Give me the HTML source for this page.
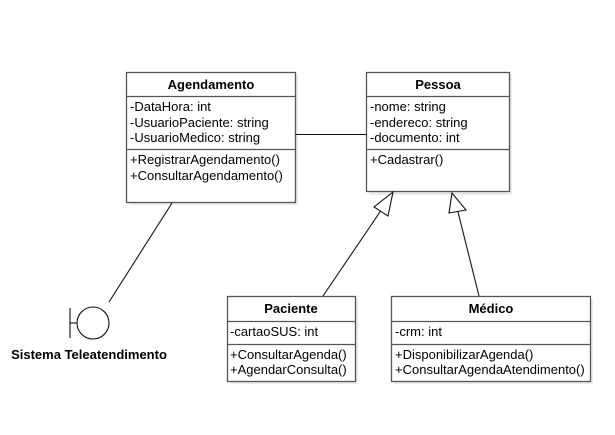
<!DOCTYPE html>
<html><head><meta charset="utf-8"><style>
html,body{margin:0;padding:0;background:#fff;}
svg{display:block;font-family:"Liberation Sans",Arial,sans-serif;}
</style></head><body>
<svg width="615" height="435" viewBox="0 0 615 435" xmlns="http://www.w3.org/2000/svg">
<rect width="615" height="435" fill="#fff"/>
<g fill="#ececec">
<rect x="129" y="75" width="169" height="130"/>
<rect x="369" y="75" width="143" height="120"/>
<rect x="230" y="299" width="128" height="85"/>
<rect x="394" y="299" width="199" height="85"/>
</g>
<g fill="#fff" stroke="#555" stroke-width="1.3">
<rect x="126.5" y="72.5" width="169" height="130"/>
<rect x="366.5" y="72.5" width="143" height="119"/>
<rect x="227.5" y="296.5" width="128" height="85"/>
<rect x="391.5" y="296.5" width="199" height="85"/>
</g>
<g stroke="#555" stroke-width="1.3">
<line x1="126.5" y1="96.5" x2="295.5" y2="96.5"/>
<line x1="126.5" y1="149.5" x2="295.5" y2="149.5"/>
<line x1="366.5" y1="96.5" x2="509.5" y2="96.5"/>
<line x1="366.5" y1="149.5" x2="509.5" y2="149.5"/>
<line x1="227.5" y1="321.5" x2="355.5" y2="321.5"/>
<line x1="227.5" y1="344.5" x2="355.5" y2="344.5"/>
<line x1="391.5" y1="321.5" x2="590.5" y2="321.5"/>
<line x1="391.5" y1="344.5" x2="590.5" y2="344.5"/>
</g>
<g stroke="#111" stroke-width="1.1" fill="none">
<line x1="295.5" y1="134.5" x2="366.5" y2="134.5"/>
<line x1="172" y1="203" x2="109" y2="302"/>
<line x1="323" y1="296" x2="384" y2="206"/>
<polygon points="393,192 374,207 388,216" fill="#fff"/>
<line x1="479" y1="296" x2="458" y2="212"/>
<polygon points="452,193 449,213 466,210" fill="#fff"/>
<circle cx="93" cy="323" r="16" fill="#fff"/>
<line x1="70" y1="308" x2="70" y2="338"/>
<line x1="70" y1="323" x2="77" y2="323"/>
</g>
<g font-size="13" fill="#000">
<text x="211" y="89" text-anchor="middle" font-weight="bold">Agendamento</text>
<text x="130" y="111">-DataHora: int</text>
<text x="130" y="127">-UsuarioPaciente: string</text>
<text x="130" y="142">-UsuarioMedico: string</text>
<text x="130" y="164">+RegistrarAgendamento()</text>
<text x="130" y="180">+ConsultarAgendamento()</text>
<text x="438" y="89" text-anchor="middle" font-weight="bold">Pessoa</text>
<text x="370" y="111">-nome: string</text>
<text x="370" y="127">-endereco: string</text>
<text x="370" y="142">-documento: int</text>
<text x="370" y="164">+Cadastrar()</text>
<text x="291" y="313" text-anchor="middle" font-weight="bold">Paciente</text>
<text x="230" y="336">-cartaoSUS: int</text>
<text x="230" y="359">+ConsultarAgenda()</text>
<text x="230" y="374">+AgendarConsulta()</text>
<text x="491" y="313" text-anchor="middle" font-weight="bold">Médico</text>
<text x="395" y="336">-crm: int</text>
<text x="395" y="359">+DisponibilizarAgenda()</text>
<text x="395" y="374">+ConsultarAgendaAtendimento()</text>
<text x="89" y="359" text-anchor="middle" font-weight="bold">Sistema Teleatendimento</text>
</g>
</svg>
</body></html>
